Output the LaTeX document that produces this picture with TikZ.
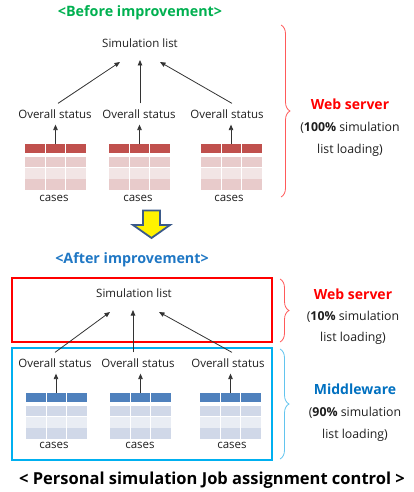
\documentclass[tikz,border=0pt]{standalone}
\usepackage{fontspec}
\setmainfont{Open Sans}
\usetikzlibrary{arrows.meta,decorations.pathreplacing,calc}

\definecolor{txt}{HTML}{1E1E1E}
\definecolor{titlegreen}{HTML}{00B050}
\definecolor{titleblue}{HTML}{1F77C4}
\definecolor{mwblue}{HTML}{0070C0}
\definecolor{wsred}{HTML}{FF0000}
\definecolor{bracered}{HTML}{FF5A5A}
\definecolor{braceblue}{HTML}{62C4EE}
\definecolor{boxblue}{HTML}{00B0F0}
\definecolor{arrowline}{HTML}{3B5A8A}
% table colour schemes
\definecolor{redhd}{HTML}{C0504D}
\definecolor{redlt}{HTML}{E8CBCB}
\definecolor{redxl}{HTML}{F2E5E5}
\definecolor{bluehd}{HTML}{4F81BD}
\definecolor{bluelt}{HTML}{D0D8E8}
\definecolor{bluexl}{HTML}{E9EDF4}

% a small table of cases: #1 anchor name, #2 left x, #3 top y, #4 colour scheme
\newcommand\casestable[4]{%
  \begin{scope}[shift={(#2,#3)}]
    \fill[#4hd] (0,0) rectangle (61,9);
    \fill[#4lt] (0,12.5) rectangle (61,23.3);
    \fill[#4xl] (0,24) rectangle (61,34.6);
    \fill[#4lt] (0,35.3) rectangle (61,46);
    \draw[white, line width=0.9pt] (20.5,-0.5) -- (20.5,46.5) (40.8,-0.5) -- (40.8,46.5);
    \coordinate (#1) at (30.5,0);
  \end{scope}}

\newcommand\headword[2]{\textcolor{#1}{\fontsize{14}{22}\selectfont\bfseries #2}}

\tikzset{
  lbl/.style={inner xsep=0pt, inner ysep=6pt, text=txt, font=\fontsize{11.5}{13}\selectfont},
  capt/.style={inner sep=0pt, text=txt, font=\fontsize{11.5}{13}\selectfont},
  arr/.style={draw=black!80, line width=0.8pt, -{Triangle[length=5.5pt,width=4.5pt]}},
  side/.style={align=center, text=txt, font=\fontsize{12.3}{22}\selectfont},
  brc/.style={decorate, decoration={brace, amplitude=9pt}, line width=0.8pt},
  heading/.style={font=\fontsize{14.3}{16}\selectfont\bfseries},
}

\begin{document}
\begin{tikzpicture}[x=1pt, y=-1pt]
\useasboundingbox (0,0) rectangle (414,492);

% ---------- before ----------
\node[heading, text=titlegreen] (t1) at (140,13) {<Before improvement>};
\node[capt] (sim1) at (140,43) {Simulation list};

\node[lbl] (o1) at (55,114) {Overall status};
\node[lbl] (o2) at (139,114) {Overall status};
\node[lbl] (o3) at (227,114) {Overall status};

\casestable{h1}{25}{144}{red}
\casestable{h2}{109}{144}{red}
\casestable{h3}{200.5}{144}{red}

\node[capt] (c1) at (54,198) {cases};
\node[capt] (c2) at (138,198) {cases};
\node[capt] (c3) at (229,198) {cases};

\coordinate (p1) at (120,62);
\coordinate (p2) at (140,60);
\coordinate (p3) at (160,62);
\draw[arr] ([xshift=3pt]o1.north) -- (p1);
\draw[arr] (o2.north -| p2) -- (p2);
\draw[arr] ([xshift=5pt]o3.north) -- (p3);

\draw[arr] (h1) -- (o1.south -| h1);
\draw[arr] (h2) -- (o2.south -| h2);
\draw[arr] (h3) -- (o3.south -| h3);

\draw[brc, bracered] (281,25) -- (281,197);
\node[side] (ws1) at (350,128) {\headword{wsred}{Web server}\\(\textbf{100\%} simulation\\list loading)};

% ---------- transition arrow ----------
\draw[fill=yellow, draw=arrowline, line width=1.8pt, line join=miter]
  (143,210.5) -- (160,210.5) -- (160,225) -- (170,225) -- (151.5,238) -- (133,225) -- (143,225) -- cycle;

% ---------- after ----------
\node[heading, text=titleblue] (t2) at (132,260) {<After improvement>};

\node[draw=wsred, line width=2.7pt, minimum width=260pt, minimum height=64pt, inner sep=0pt] (web) at (142,310) {};
\node[draw=boxblue, line width=2.7pt, minimum width=260pt, minimum height=112pt, inner sep=0pt] (mid) at (142,404) {};

\node[capt] (sim2) at (134,293) {Simulation list};

\node[lbl] (o4) at (55,363) {Overall status};
\node[lbl] (o5) at (138,363) {Overall status};
\node[lbl] (o6) at (228,363) {Overall status};

\casestable{h4}{25.5}{393}{blue}
\casestable{h5}{110}{393}{blue}
\casestable{h6}{200}{393}{blue}

\node[capt] (c4) at (54,445) {cases};
\node[capt] (c5) at (140,445) {cases};
\node[capt] (c6) at (232,445) {cases};

\coordinate (q1) at (110,312);
\coordinate (q2) at (133,310);
\coordinate (q3) at (159,312);
\draw[arr] (o4.north) -- (q1);
\draw[arr] (o5.north -| q2) -- (q2);
\draw[arr] ([xshift=4pt]o6.north) -- (q3);

\draw[arr] (h4) -- (o4.south -| h4);
\draw[arr] (h5) -- (o5.south -| h5);
\draw[arr] (h6) -- (o6.south -| h6);

\draw[brc, bracered] (280,279) -- (280,342);
\draw[brc, braceblue] (280,349) -- (280,459);

\node[side, font=\fontsize{12.3}{21}\selectfont] (ws2) at (353,317) {\headword{wsred}{Web server}\\(\textbf{10\%} simulation\\list loading)};
\node[side] (mw) at (355,413) {\headword{mwblue}{Middleware}\\(\textbf{90\%} simulation\\list loading)};

\node[font=\fontsize{16.5}{18}\selectfont\bfseries, text=black] (foot) at (212,480) {< Personal simulation Job assignment control >};
\end{tikzpicture}
\end{document}
